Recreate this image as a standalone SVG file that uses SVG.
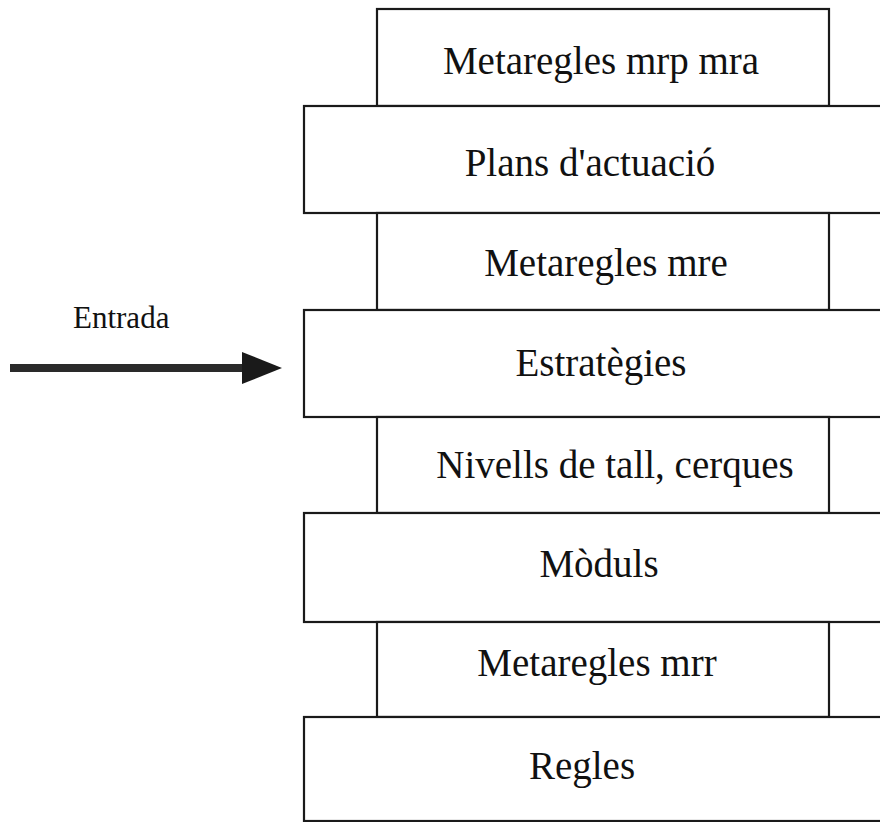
<svg xmlns="http://www.w3.org/2000/svg" width="880" height="822" viewBox="0 0 880 822">
<style>
.box{fill:#fff;stroke:#1a1a1a;stroke-width:2.2}
.lbl{font-family:"Liberation Serif","Times New Roman",serif;font-size:39px;fill:#111;text-anchor:middle}
.in{font-family:"Liberation Serif","Times New Roman",serif;font-size:31px;fill:#111}
</style>
<rect width="880" height="822" fill="#fff"/>
<g id="n1"><rect class="box" x="377" y="9" width="452" height="97"/><text class="lbl" x="601" y="74">Metaregles mrp mra</text></g>
<g id="n2"><rect class="box" x="304" y="106" width="600" height="107"/><text class="lbl" x="590" y="176">Plans d'actuació</text></g>
<g id="n3"><rect class="box" x="377" y="213" width="452" height="97"/><text class="lbl" x="606" y="276">Metaregles mre</text></g>
<g id="n4"><rect class="box" x="304" y="310" width="600" height="107"/><text class="lbl" x="601" y="376">Estratègies</text></g>
<g id="n5"><rect class="box" x="377" y="417" width="452" height="96"/><text class="lbl" x="615" y="478">Nivells de tall, cerques</text></g>
<g id="n6"><rect class="box" x="304" y="513" width="600" height="109"/><text class="lbl" x="599" y="577">Mòduls</text></g>
<g id="n7"><rect class="box" x="377" y="622" width="452" height="95"/><text class="lbl" x="597" y="676">Metaregles mrr</text></g>
<g id="n8"><rect class="box" x="304" y="717" width="600" height="104"/><text class="lbl" x="582" y="779">Regles</text></g>
<g id="connectors">
<line x1="10" y1="368" x2="246" y2="368" stroke="#2a2a2a" stroke-width="8"/>
<polygon points="242,352 282,368 242,384" fill="#1a1a1a"/>
<text class="in" x="73" y="328">Entrada</text>
</g>
</svg>
